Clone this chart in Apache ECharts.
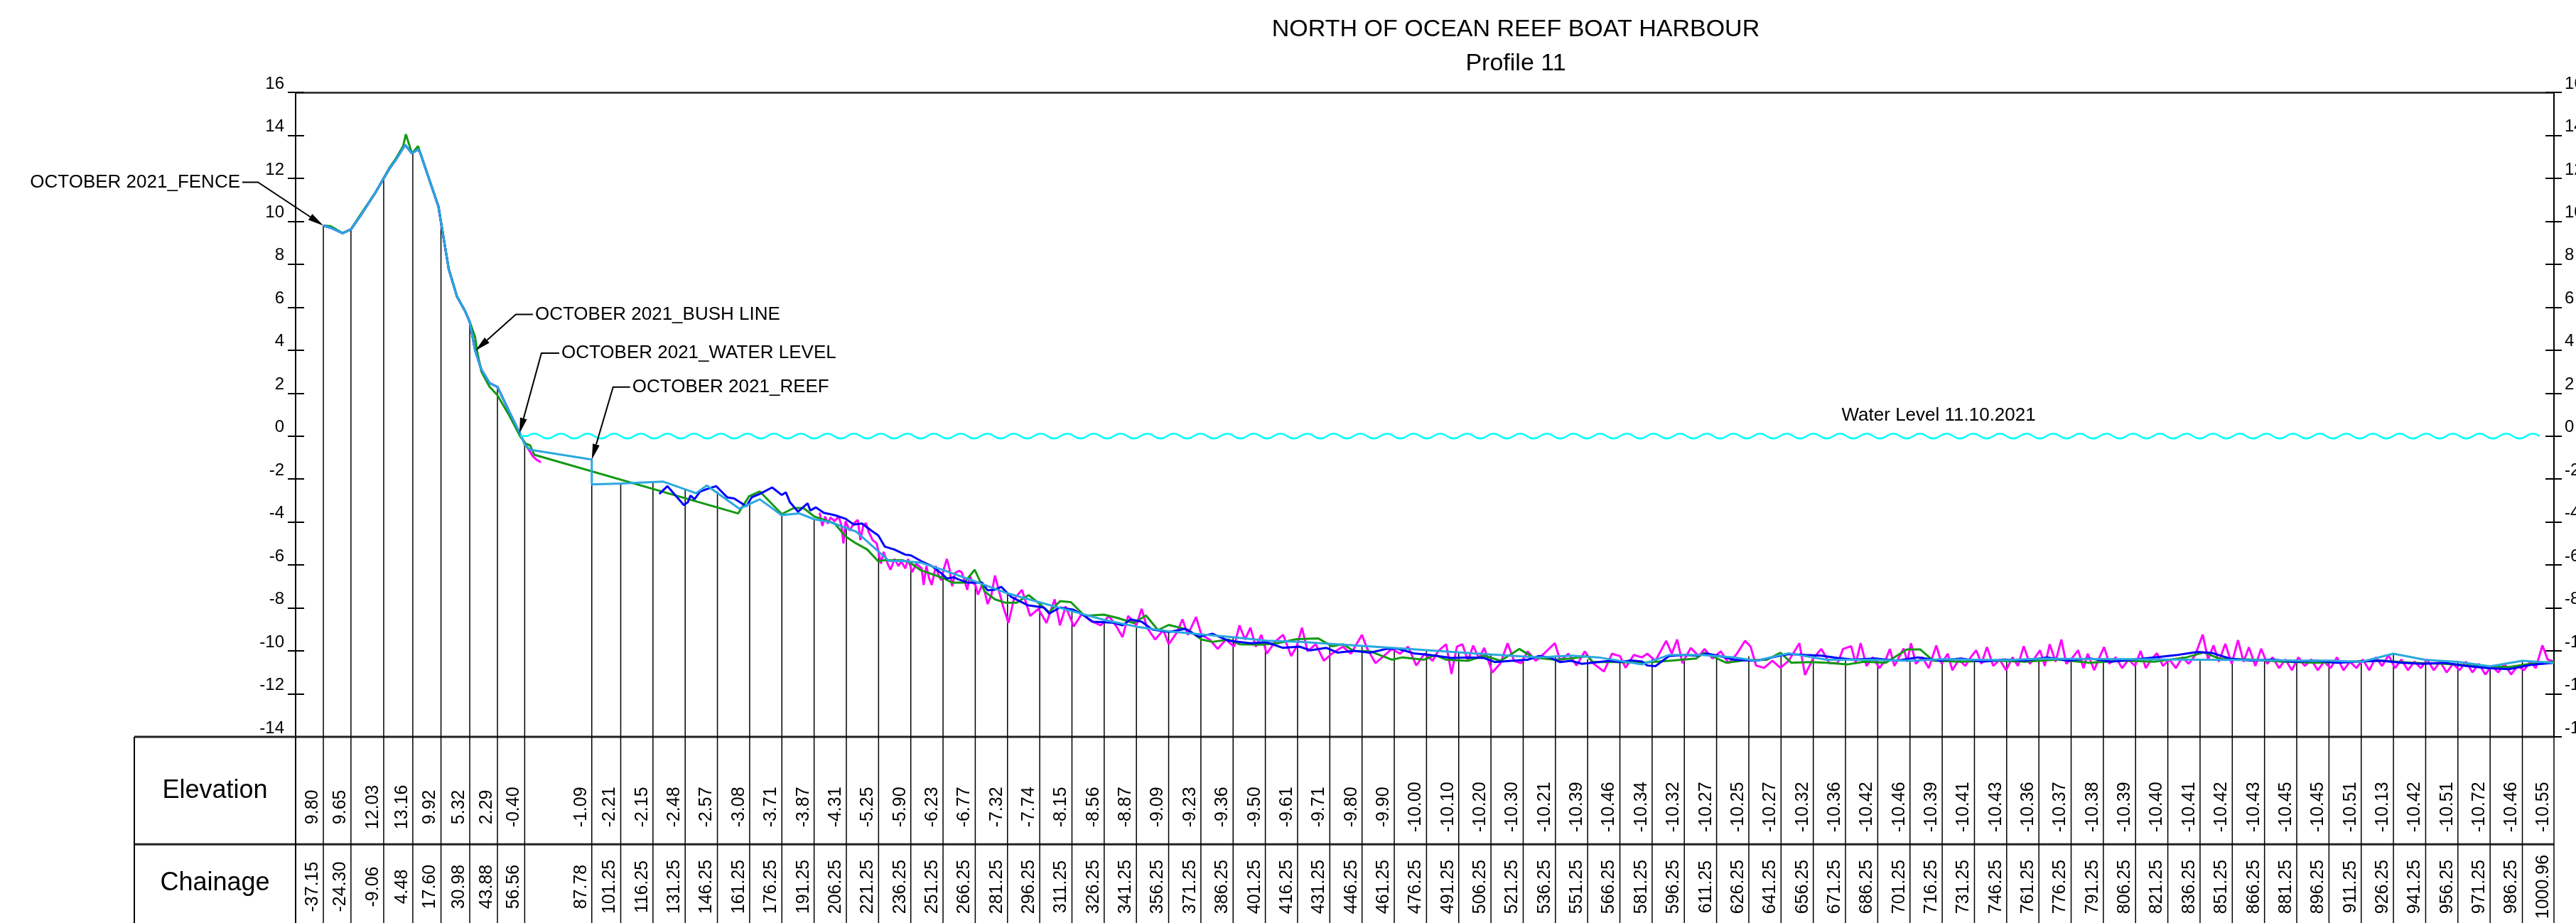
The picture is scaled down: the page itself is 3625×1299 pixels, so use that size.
<!DOCTYPE html>
<html>
<head>
<meta charset="utf-8">
<title>Profile 11</title>
<script src="https://cdn.jsdelivr.net/npm/echarts@6/dist/echarts.min.js"></script>
<style>
html, body { margin: 0; padding: 0; background: #fff; }
#main { width: 3625px; height: 1299px; }
</style>
</head>
<body>
<div id="main"></div>
<script>
const FONT = "'Liberation Sans', Arial, sans-serif";

// axis ranges (chainage / elevation)
const xMin = -50.05;
const xMax = 1000.96;
const yMin = -14;
const yMax = 16;

// table below the profile
const tableChainage = [-37.15, -24.30, -9.06, 4.48, 17.60, 30.98, 43.88, 56.56, 87.78,
  101.25, 116.25, 131.25, 146.25, 161.25, 176.25, 191.25, 206.25, 221.25, 236.25,
  251.25, 266.25, 281.25, 296.25, 311.25, 326.25, 341.25, 356.25, 371.25, 386.25,
  401.25, 416.25, 431.25, 446.25, 461.25, 476.25, 491.25, 506.25, 521.25, 536.25,
  551.25, 566.25, 581.25, 596.25, 611.25, 626.25, 641.25, 656.25, 671.25, 686.25,
  701.25, 716.25, 731.25, 746.25, 761.25, 776.25, 791.25, 806.25, 821.25, 836.25,
  851.25, 866.25, 881.25, 896.25, 911.25, 926.25, 941.25, 956.25, 971.25, 986.25, 1000.96];
const tableElevation = [9.80, 9.65, 12.03, 13.16, 9.92, 5.32, 2.29, -0.40, -1.09,
  -2.21, -2.15, -2.48, -2.57, -3.08, -3.71, -3.87, -4.31, -5.25, -5.90,
  -6.23, -6.77, -7.32, -7.74, -8.15, -8.56, -8.87, -9.09, -9.23, -9.36,
  -9.50, -9.61, -9.71, -9.80, -9.90, -10.00, -10.10, -10.20, -10.30, -10.21,
  -10.39, -10.46, -10.34, -10.32, -10.27, -10.25, -10.27, -10.32, -10.36, -10.42,
  -10.46, -10.39, -10.41, -10.43, -10.36, -10.37, -10.38, -10.39, -10.40, -10.41,
  -10.42, -10.43, -10.45, -10.45, -10.51, -10.13, -10.42, -10.51, -10.72, -10.46, -10.55];

// dune / beach part, common to the surveys
const beachProfile = [[-37.15, 9.80], [-33.8, 9.70], [-28.2, 9.45], [-24.3, 9.62], [-19.6, 10.30],
  [-13.0, 11.32], [-6.3, 12.46], [-3.5, 12.85], [0.9, 13.55], [4.1, 13.16], [6.9, 13.35],
  [7.9, 13.20], [16.4, 10.69], [21.2, 7.78], [25.0, 6.51], [28.8, 5.82], [30.98, 5.32],
  [33.5, 3.98], [36.4, 3.10], [40.2, 2.47], [43.88, 2.29], [49.7, 1.07], [54.4, 0.12]];

const lightBlueSeabed = [[56.56, -0.40], [59.2, -0.64], [87.78, -1.09], [87.78, -2.25],
  [101.25, -2.21], [121.1, -2.12], [136.3, -2.66], [141.3, -2.30], [156.5, -3.38], [166.0, -2.94],
  [176.1, -3.68], [184.4, -3.60], [191.25, -3.87], [198.9, -4.01], [210.9, -4.45], [226.1, -5.81],
  [232.4, -5.81], [241.3, -5.90], [251.25, -6.23], [266.25, -6.77], [281.25, -7.32], [296.25, -7.74],
  [311.25, -8.15], [326.25, -8.56], [341.25, -8.87], [356.25, -9.09], [371.25, -9.23], [386.25, -9.36],
  [401.9, -9.53], [417.1, -9.58], [437.3, -9.71], [467.7, -9.91], [498.0, -10.11], [528.4, -10.30],
  [543.6, -10.22], [556.2, -10.30], [576.5, -10.63], [589.1, -10.19], [604.3, -10.19], [619.5, -10.30],
  [629.6, -10.46], [644.8, -10.11], [662.5, -10.41], [672.1, -10.41], [686.25, -10.42], [701.25, -10.46],
  [716.25, -10.39], [731.25, -10.41], [746.25, -10.43], [761.25, -10.36], [776.25, -10.37],
  [791.25, -10.38], [806.25, -10.39], [821.25, -10.40], [836.25, -10.41], [851.25, -10.42],
  [866.25, -10.43], [881.25, -10.45], [896.25, -10.45], [911.25, -10.51], [926.25, -10.13],
  [941.25, -10.42], [956.25, -10.51], [971.25, -10.72], [986.25, -10.46], [1000.96, -10.55]];

const greenProfile = [[-37.15, 9.80], [-33.8, 9.77], [-28.2, 9.45], [-24.3, 9.62], [-19.6, 10.35],
  [-13.0, 11.32], [-6.3, 12.50], [-3.5, 12.90], [0.0, 13.50], [1.27, 14.05], [4.1, 13.16], [6.9, 13.50],
  [7.9, 13.20], [16.4, 10.69], [21.2, 7.78], [25.0, 6.51], [28.8, 5.82], [30.98, 5.32], [33.5, 4.61],
  [34.4, 3.96], [36.4, 3.00], [40.2, 2.30], [43.88, 1.90], [49.7, 0.90], [54.4, 0.00], [57.0, -0.35],
  [59.1, -0.43], [61.0, -0.87], [155.9, -3.60], [161.0, -2.80], [166.0, -2.58], [176.2, -3.63],
  [181.8, -3.35], [186.3, -3.35], [191.3, -3.74], [200.8, -4.07], [205.9, -4.67], [210.9, -5.00],
  [216.0, -5.28], [221.1, -5.83], [223.6, -5.78], [232.4, -5.78], [235.9, -5.89], [241.0, -6.25],
  [251.1, -6.60], [255.5, -6.82], [261.2, -6.82], [266.0, -6.22], [270.7, -7.24], [275.4, -7.60],
  [280.4, -7.76], [285.5, -7.76], [291.1, -7.40], [295.6, -7.76], [300.7, -8.20], [305.7, -7.68],
  [310.8, -7.73], [317.1, -8.37], [326.0, -8.31], [332.3, -8.46], [339.9, -8.70], [345.7, -8.35],
  [351.3, -9.03], [356.3, -8.79], [365.2, -9.01], [371.5, -9.47], [376.6, -9.58], [384.2, -9.47],
  [389.2, -9.69], [399.3, -9.71], [406.9, -9.64], [415.8, -9.45], [425.9, -9.42], [432.2, -9.78],
  [437.3, -9.69], [442.4, -10.00], [450.0, -10.02], [460.1, -10.41], [465.1, -10.30], [475.2, -10.41],
  [480.3, -10.19], [485.4, -10.41], [495.5, -10.46], [503.1, -10.22], [510.7, -10.46], [519.5, -9.91],
  [525.9, -10.30], [536.0, -10.41], [543.6, -10.35], [551.2, -10.24], [553.7, -10.52], [563.8, -10.52],
  [576.5, -10.55], [589.1, -10.46], [601.8, -10.35], [605.6, -10.08], [615.7, -10.55], [624.5, -10.44],
  [634.7, -10.41], [641.0, -10.08], [646.0, -10.55], [654.9, -10.52], [662.5, -10.55], [672.1, -10.63],
  [680, -10.50], [690, -10.55], [699.8, -9.93], [706, -9.93], [712, -10.45], [725, -10.50],
  [740, -10.45], [755, -10.50], [770, -10.40], [785, -10.55], [800, -10.45], [815, -10.50],
  [830, -10.30], [838, -10.07], [845, -10.35], [860, -10.40], [875, -10.50], [890, -10.55],
  [905, -10.50], [920, -10.45], [935, -10.55], [950, -10.60], [965, -10.70], [980, -10.75],
  [990, -10.60], [1000.96, -10.50]];

const blueSeabed = [[119.2, -2.69], [123.0, -2.33], [130.6, -3.21], [132.5, -3.08], [133.7, -2.77],
  [135.6, -2.94], [138.2, -2.58], [141.3, -2.47], [145.7, -2.33], [150.8, -2.85], [154.0, -2.90],
  [159.7, -3.27], [162.2, -2.85], [166.0, -2.69], [171.7, -2.39], [176.2, -2.74], [178.1, -2.62],
  [180.0, -3.08], [183.8, -3.52], [188.2, -3.13], [189.5, -3.46], [192.0, -3.32], [195.8, -3.57],
  [200.8, -3.68], [205.9, -3.85], [209.7, -4.12], [213.5, -4.07], [217.9, -4.40], [221.1, -4.62],
  [224.2, -5.15], [228.6, -5.28], [233.7, -5.52], [236.2, -5.55], [241.3, -5.83], [246.0, -6.05],
  [250.4, -6.38], [253.0, -6.63], [256.1, -6.57], [258.7, -6.68], [262.5, -6.82], [269.4, -6.82],
  [272.0, -7.18], [275.4, -7.15], [278.4, -7.02], [283.0, -7.49], [290.6, -7.87], [298.1, -7.98],
  [300.7, -8.26], [305.7, -7.98], [312.1, -8.09], [317.1, -8.37], [320.9, -8.64], [329.8, -8.68],
  [334.8, -8.81], [338.6, -8.53], [343.7, -8.64], [348.7, -9.01], [356.3, -9.12], [363.9, -8.97],
  [370.3, -9.34], [376.6, -9.20], [384.2, -9.53], [394.3, -9.64], [401.9, -9.60], [409.5, -9.86],
  [417.1, -9.80], [422.1, -9.97], [429.7, -9.86], [434.8, -10.08], [442.4, -10.00], [450.0, -10.08],
  [457.5, -9.91], [462.6, -9.89], [470.2, -10.11], [477.8, -10.19], [487.9, -10.33], [495.5, -10.30],
  [503.1, -10.33], [508.1, -10.52], [515.7, -10.46], [523.3, -10.41], [528.4, -10.24], [533.4, -10.30],
  [538.5, -10.52], [543.6, -10.46], [548.6, -10.60], [556.2, -10.52], [561.3, -10.46], [566.3, -10.52],
  [571.4, -10.44], [576.5, -10.49], [579.0, -10.68], [582.8, -10.71], [589.1, -10.24], [596.7, -10.19],
  [601.8, -10.22], [606.8, -10.13], [611.9, -10.22], [619.5, -10.41], [629.6, -10.46], [637.2, -10.30],
  [644.8, -10.15], [652.4, -10.19], [660.0, -10.22], [667.5, -10.33], [675, -10.40], [685, -10.35],
  [695, -10.45], [705, -10.30], [715, -10.45], [725, -10.35], [735, -10.50], [745, -10.40],
  [755, -10.45], [765, -10.30], [775, -10.45], [785, -10.35], [795, -10.50], [805, -10.40],
  [815, -10.30], [825, -10.20], [835, -10.05], [842, -10.10], [850, -10.35], [860, -10.45],
  [870, -10.40], [880, -10.50], [890, -10.45], [900, -10.55], [910, -10.50], [920, -10.45],
  [930, -10.55], [940, -10.60], [950, -10.55], [960, -10.70], [970, -10.80], [980, -10.85],
  [990, -10.65], [1000.96, -10.55]];

const magentaBeachTail = [[54.0, 0.15], [57.8, -0.54], [60.3, -0.93], [62.2, -1.11], [64.1, -1.22]];

const magentaSeabed = [[193.8, -3.57], [195.1, -4.18], [196.4, -3.74], [197.6, -4.07], [198.9, -3.79],
  [200.8, -3.96], [202.7, -3.74], [204.0, -4.18], [204.9, -5.00], [205.9, -3.96], [207.8, -4.40],
  [209.7, -4.07], [211.6, -3.90], [212.8, -4.84], [214.1, -4.18], [215.4, -4.05], [216.6, -4.45],
  [218.5, -4.84], [220.4, -5.00], [222.3, -5.94], [223.6, -5.39], [225.5, -5.94], [226.8, -6.22],
  [228.7, -5.72], [230.5, -6.05], [231.8, -5.83], [233.7, -6.16], [235.0, -5.72], [236.9, -6.33],
  [238.8, -5.94], [241.3, -6.16], [242.2, -6.93], [243.5, -6.05], [244.7, -6.60], [246.0, -6.93],
  [247.9, -6.05], [249.2, -6.49], [250.4, -6.71], [251.7, -6.16], [253.0, -5.72], [254.2, -6.16],
  [255.5, -6.99], [256.8, -6.38], [258.7, -6.27], [259.9, -6.33], [261.2, -6.71], [262.5, -7.16],
  [263.7, -6.49], [265.0, -6.82], [266.3, -6.93], [267.5, -7.38], [269.4, -6.93], [270.7, -7.27],
  [272.0, -7.82], [273.8, -7.38], [275.4, -6.49], [279.2, -7.93], [281.7, -8.70], [284.2, -7.60],
  [288.0, -7.16], [291.8, -8.37], [295.6, -8.04], [299.4, -8.70], [303.2, -7.60], [305.7, -8.81],
  [308.3, -7.93], [312.1, -8.86], [315.9, -8.26], [319.7, -8.59], [324.7, -8.81], [328.5, -8.37],
  [332.3, -8.92], [334.8, -9.36], [337.4, -8.37], [341.2, -8.81], [343.7, -8.04], [346.2, -8.92],
  [350.0, -9.47], [353.8, -9.03], [356.3, -9.69], [360.1, -9.14], [362.7, -8.53], [365.2, -9.25],
  [369.0, -8.42], [371.5, -9.25], [375.3, -9.47], [379.1, -9.91], [382.9, -9.47], [386.7, -9.80],
  [389.2, -8.81], [391.8, -9.47], [394.3, -8.92], [396.8, -9.80], [399.4, -9.25], [401.9, -10.13],
  [405.7, -9.58], [409.5, -9.25], [413.3, -10.24], [415.8, -9.80], [418.3, -8.92], [420.9, -10.02],
  [424.7, -9.69], [428.5, -10.46], [432.2, -10.13], [437.3, -9.80], [441.1, -10.13], [446.2, -9.25],
  [448.7, -9.91], [452.5, -10.57], [456.3, -10.24], [460.1, -9.91], [463.9, -10.13], [467.7, -9.80],
  [471.5, -10.68], [475.3, -10.13], [479.1, -10.46], [481.6, -10.02], [485.4, -9.69], [487.9, -11.07],
  [490.4, -9.80], [493.0, -9.69], [495.5, -10.46], [498.0, -9.75], [500.6, -10.35], [503.1, -9.86],
  [506.9, -11.01], [510.7, -10.57], [514.0, -9.64], [517.0, -10.46], [520.3, -10.57], [523.3, -10.02],
  [527.1, -10.46], [530.9, -10.13], [536.0, -9.64], [538.5, -10.46], [542.3, -10.13], [546.1, -10.68],
  [549.9, -10.02], [553.7, -10.57], [558.8, -10.96], [562.6, -10.13], [566.3, -10.24], [568.9, -10.79],
  [572.7, -10.19], [576.5, -10.30], [579.0, -10.13], [582.8, -10.46], [587.8, -9.53], [590.4, -10.13],
  [592.9, -9.47], [595.4, -10.57], [599.2, -9.86], [603.0, -10.24], [605.6, -9.91], [609.4, -10.35],
  [613.2, -10.02], [616.9, -10.57], [620.7, -10.13], [624.5, -9.53], [627.1, -9.80], [629.6, -10.68],
  [633.4, -10.79], [637.2, -10.46], [641.0, -10.79], [644.8, -10.46], [649.8, -9.64], [652.4, -11.12],
  [656.2, -10.35], [660.0, -9.91], [663.8, -10.57], [667.6, -10.57], [670.1, -9.91], [673.9, -9.78],
  [676.0, -10.60], [678.3, -9.64], [681.0, -10.70], [684.0, -10.30], [687.0, -10.80], [690.0, -10.40],
  [691.9, -9.91], [694.0, -10.70], [698.3, -9.89], [700.0, -10.50], [701.7, -9.64], [704.0, -10.60],
  [707.0, -10.30], [710.0, -10.80], [713.5, -9.75], [716.0, -10.60], [718.8, -10.13], [721.0, -10.90],
  [724.0, -10.40], [727.0, -10.70], [729.5, -10.30], [732.1, -9.97], [734.5, -10.60], [737.1, -9.82],
  [740.0, -10.70], [743.0, -10.40], [746.0, -10.90], [749.0, -10.30], [751.5, -10.70], [754.2, -9.78],
  [757.0, -10.60], [759.5, -10.30], [761.8, -9.97], [764.0, -10.70], [766.3, -9.69], [769.0, -10.50],
  [771.7, -9.47], [774.0, -10.60], [777.0, -10.30], [779.5, -9.97], [782.0, -10.80], [784.0, -10.13],
  [787.0, -10.90], [789.0, -10.40], [791.6, -9.82], [794.0, -10.60], [797.0, -10.30], [800.0, -10.80],
  [803.0, -10.40], [806.0, -10.70], [808.6, -10.00], [811.0, -10.80], [813.5, -10.40], [816.2, -10.11],
  [819.0, -10.70], [822.0, -10.40], [825.0, -10.80], [828.0, -10.30], [831.0, -10.60], [834.0, -10.20],
  [837.5, -9.24], [840.0, -10.40], [842.5, -9.74], [845.0, -10.50], [848.0, -9.67], [851.0, -10.60],
  [853.9, -9.50], [856.5, -10.50], [859.0, -9.83], [862.0, -10.70], [864.7, -9.90], [867.5, -10.60],
  [870.0, -10.30], [873.0, -10.80], [876.0, -10.40], [879.0, -10.90], [882.0, -10.30], [885.0, -10.70],
  [888.0, -10.40], [891.0, -10.90], [894.0, -10.50], [897.0, -10.80], [900.0, -10.30], [903.0, -10.90],
  [906.0, -10.50], [909.0, -10.80], [912.0, -10.40], [915.0, -10.90], [918.0, -10.30], [921.0, -10.70],
  [924.0, -10.20], [927.0, -10.80], [930.0, -10.40], [933.0, -10.90], [936.0, -10.50], [939.0, -10.80],
  [942.0, -10.40], [945.0, -10.90], [948.0, -10.50], [951.0, -11.00], [954.0, -10.60], [957.0, -10.90],
  [960.0, -10.50], [963.0, -11.00], [966.0, -10.60], [969.0, -11.10], [972.0, -10.70], [975.0, -11.00],
  [978.0, -10.60], [981.0, -11.10], [984.0, -10.70], [987.0, -10.90], [990.0, -10.50], [992.5, -10.80],
  [995.6, -9.74], [998.0, -10.40], [1000.96, -10.50]];

// water level line
const waterLevel = 0;
const waterFrom = 54.6;
const waterTo = 996.3;
const waterLabel = 'Water Level 11.10.2021';

// callouts: arrow tip points on the profile
const calloutNames = ['OCTOBER 2021_FENCE', 'OCTOBER 2021_BUSH LINE', 'OCTOBER 2021_WATER LEVEL', 'OCTOBER 2021_REEF'];
const calloutTips = [[-37.15, 9.80], [33.6, 3.98], [54.1, 0.12], [87.78, -1.09]];

// layout (pixel offsets and levels used by the custom drawings)
const tableLeft = -125.12;
const rowDivider = -19;
const tableBottom = -23;
const elevLabelLevel = -16.5;
const chainLabelLevel = -20.8;
const elevTextLevel = -17.27;
const chainTextLevel = -20.98;
const calloutLayout = [
  { elbow: [-92, -61], end: -114, side: 'right' },
  { elbow: [57, -51], end: 81, side: 'left' },
  { elbow: [31, -113], end: 56, side: 'left' },
  { elbow: [30, -102], end: 54, side: 'left' }
];

const myChart = echarts.init(document.getElementById('main'));

function renderTableFrame(params, api) {
  const top = api.coord([tableLeft, yMin]);
  const topR = api.coord([xMax, yMin]);
  const mid = api.coord([tableLeft, rowDivider]);
  const bot = api.coord([tableLeft, tableBottom]);
  const axisTop = api.coord([xMin, yMin]);
  const axisBot = api.coord([xMin, tableBottom]);
  const cx = (top[0] + axisTop[0]) / 2;
  const thick = { stroke: '#222', lineWidth: 3 };
  const textStyle = { fontSize: 36, fontFamily: FONT, fill: '#000', align: 'center', verticalAlign: 'middle' };
  return {
    type: 'group',
    children: [
      { type: 'line', shape: { x1: top[0], y1: top[1], x2: topR[0], y2: top[1] }, style: thick },
      { type: 'line', shape: { x1: mid[0], y1: mid[1], x2: topR[0], y2: mid[1] }, style: thick },
      { type: 'line', shape: { x1: top[0], y1: top[1], x2: bot[0], y2: bot[1] }, style: { stroke: '#000', lineWidth: 2 } },
      { type: 'line', shape: { x1: axisTop[0], y1: axisTop[1], x2: axisBot[0], y2: axisBot[1] }, style: { stroke: '#000', lineWidth: 2 } },
      { type: 'text', x: cx, y: api.coord([xMin, elevLabelLevel])[1], style: Object.assign({ text: 'Elevation' }, textStyle) },
      { type: 'text', x: cx, y: api.coord([xMin, chainLabelLevel])[1], style: Object.assign({ text: 'Chainage' }, textStyle) }
    ]
  };
}

function renderColumn(params, api) {
  const c = api.value(0);
  const e = api.value(1);
  const top = api.coord([c, e]);
  const base = api.coord([c, yMin]);
  const bottom = api.coord([c, tableBottom]);
  const tx = base[0] - 15;
  const textStyle = { fontSize: 25, fontFamily: FONT, fill: '#000', align: 'center', verticalAlign: 'middle' };
  return {
    type: 'group',
    children: [
      { type: 'line', shape: { x1: top[0], y1: top[1], x2: base[0], y2: base[1] }, style: { stroke: '#000', lineWidth: 1.5 } },
      { type: 'line', shape: { x1: base[0], y1: base[1], x2: bottom[0], y2: bottom[1] }, style: { stroke: '#000', lineWidth: 1.5 } },
      { type: 'text', x: tx, y: api.coord([c, elevTextLevel])[1], rotation: Math.PI / 2,
        style: Object.assign({ text: e.toFixed(2) }, textStyle) },
      { type: 'text', x: tx, y: api.coord([c, chainTextLevel])[1], rotation: Math.PI / 2,
        style: Object.assign({ text: c.toFixed(2) }, textStyle) }
    ]
  };
}

function renderWater(params, api) {
  const s = api.coord([api.value(0), api.value(1)]);
  const t = api.coord([api.value(2), api.value(1)]);
  const half = 18.75;
  const amp = 3.4;
  let x = s[0] + 10;
  let up = true;
  let d = 'M' + s[0] + ',' + s[1] + ' L' + x + ',' + s[1];
  while (x + half <= t[0]) {
    d += ' Q' + (x + half / 2) + ',' + (s[1] + (up ? -2 * amp : 2 * amp)) + ' ' + (x + half) + ',' + s[1];
    x += half;
    up = !up;
  }
  const lp = api.coord([714.6, api.value(1)]);
  return {
    type: 'group',
    children: [
      { type: 'path', shape: { pathData: d }, style: { stroke: '#00ffff', fill: 'none', lineWidth: 2.5 } },
      { type: 'text', x: lp[0], y: lp[1] - 29,
        style: { text: waterLabel, fontSize: 26, fontFamily: FONT, fill: '#000', align: 'center', verticalAlign: 'middle' } }
    ]
  };
}

function renderCallout(params, api) {
  const p = api.coord([api.value(0), api.value(1)]);
  const lay = calloutLayout[params.dataIndex];
  const elbow = [p[0] + lay.elbow[0], p[1] + lay.elbow[1]];
  const endX = p[0] + lay.end;
  let dx = p[0] - elbow[0];
  let dy = p[1] - elbow[1];
  const len = Math.sqrt(dx * dx + dy * dy);
  dx /= len; dy /= len;
  const headLen = 22, headW = 5;
  const b = [p[0] - dx * headLen, p[1] - dy * headLen];
  const n = [-dy, dx];
  const textX = lay.side === 'left' ? endX + 3 : endX - 3;
  return {
    type: 'group',
    children: [
      { type: 'polyline', shape: { points: [[endX, elbow[1]], elbow, b] }, style: { stroke: '#000', lineWidth: 2, fill: 'none' } },
      { type: 'polygon', shape: { points: [p, [b[0] + n[0] * headW, b[1] + n[1] * headW], [b[0] - n[0] * headW, b[1] - n[1] * headW]] },
        style: { fill: '#000' } },
      { type: 'text', x: textX, y: elbow[1],
        style: { text: calloutNames[params.dataIndex], fontSize: 26, fontFamily: FONT, fill: '#000',
          align: lay.side === 'left' ? 'left' : 'right', verticalAlign: 'middle' } }
    ]
  };
}

function lineSeries(name, data, color, z) {
  return {
    name: name,
    type: 'line',
    data: data,
    showSymbol: false,
    symbol: 'none',
    z: z,
    lineStyle: { color: color, width: 3 },
    emphasis: { disabled: true }
  };
}

const tickAxis = (position, inside) => ({
  type: 'value',
  position: position,
  min: yMin,
  max: yMax,
  interval: 2,
  axisLine: { show: !inside, onZero: false, lineStyle: { color: '#000', width: 2 } },
  axisTick: { show: true, inside: inside, length: inside ? 12 : 11, lineStyle: { color: '#000', width: 2 } },
  axisLabel: {
    show: !inside,
    fontSize: 24,
    fontFamily: FONT,
    color: '#000',
    margin: position === 'left' ? 16 : 15,
    align: position === 'left' ? 'right' : 'left',
    verticalAlign: 'bottom'
  },
  splitLine: { show: false }
});

const option = {
  animation: false,
  backgroundColor: '#fff',
  textStyle: { fontFamily: FONT },
  title: {
    text: 'NORTH OF OCEAN REEF BOAT HARBOUR',
    subtext: 'Profile 11',
    left: 2128,
    top: 20,
    textAlign: 'center',
    itemGap: 14,
    textStyle: { fontSize: 34, fontWeight: 'normal', color: '#000', fontFamily: FONT },
    subtextStyle: { fontSize: 34, color: '#000', fontFamily: FONT }
  },
  grid: { left: 416, top: 130, width: 3178, height: 907, containLabel: false, outerBoundsMode: 'none' },
  xAxis: {
    type: 'value',
    position: 'top',
    min: xMin,
    max: xMax,
    axisLine: { show: true, onZero: false, lineStyle: { color: '#222', width: 2.5 } },
    axisTick: { show: false },
    axisLabel: { show: false },
    splitLine: { show: false }
  },
  yAxis: [tickAxis('left', false), tickAxis('left', true), tickAxis('right', false), tickAxis('right', true)],
  series: [
    { type: 'custom', name: 'table', z: 1, data: [[xMin, yMin]], renderItem: renderTableFrame, silent: true },
    { type: 'custom', name: 'columns', z: 1, data: tableChainage.map((c, i) => [c, tableElevation[i]]),
      renderItem: renderColumn, silent: true },
    lineSeries('magenta beach', beachProfile.slice(0, -1).concat(magentaBeachTail), '#ff00ff', 3),
    lineSeries('magenta seabed', magentaSeabed, '#ff00ff', 3),
    lineSeries('green', greenProfile, '#139a13', 4),
    lineSeries('blue beach', beachProfile, '#0000ff', 5),
    lineSeries('blue seabed', blueSeabed, '#0000ff', 5),
    lineSeries('reef', beachProfile.concat(lightBlueSeabed), '#2aa8e0', 6),
    { type: 'custom', name: 'water', z: 7, data: [[waterFrom, waterLevel, waterTo]], renderItem: renderWater, silent: true },
    { type: 'custom', name: 'callouts', z: 10, data: calloutTips, renderItem: renderCallout, silent: true }
  ]
};

myChart.setOption(option);
</script>
</body>
</html>
